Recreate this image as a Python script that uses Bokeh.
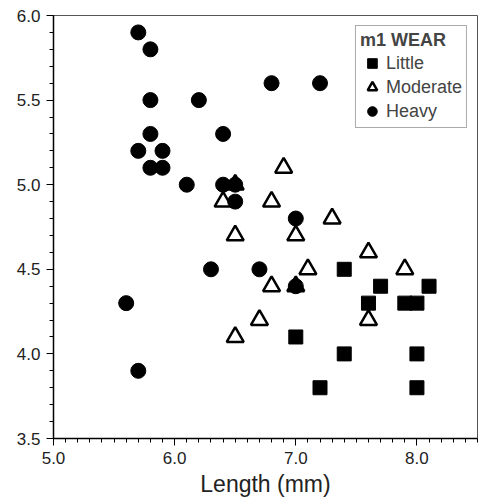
from bokeh.plotting import figure
from bokeh.models import Range1d, FixedTicker, Legend, LegendItem, NumeralTickFormatter
from bokeh.embed import file_html
from bokeh.resources import INLINE

little_x = [7.4, 7.7, 8.1, 7.6, 7.9, 8.0, 7.0, 7.4, 8.0, 7.2, 8.0]
little_y = [4.5, 4.4, 4.4, 4.3, 4.3, 4.3, 4.1, 4.0, 4.0, 3.8, 3.8]

moderate_x = [6.4, 6.5, 6.5, 6.9, 6.8, 7.0, 7.3, 7.6, 7.1, 7.9, 6.8, 7.0, 7.6, 6.7, 6.5]
moderate_y = [4.9, 5.0, 4.7, 5.1, 4.9, 4.7, 4.8, 4.6, 4.5, 4.5, 4.4, 4.4, 4.2, 4.2, 4.1]

heavy_x = [5.7, 5.8, 5.8, 6.2, 5.8, 6.4, 5.7, 5.9, 5.8, 5.9, 6.1, 6.4, 6.5, 6.5,
           6.8, 7.2, 7.0, 6.3, 6.7, 7.0, 5.6, 5.7]
heavy_y = [5.9, 5.8, 5.5, 5.5, 5.3, 5.3, 5.2, 5.2, 5.1, 5.1, 5.0, 5.0, 5.0, 4.9,
           5.6, 5.6, 4.8, 4.5, 4.5, 4.4, 4.3, 3.9]

x_ticks = [5.0, 6.0, 7.0, 8.0]
y_ticks = [3.5, 4.0, 4.5, 5.0, 5.5, 6.0]

FONT = "Liberation Sans"

p = figure(width=485, height=502, output_backend="svg", toolbar_location=None,
           x_range=Range1d(5.0, 8.5), y_range=Range1d(3.5, 6.0),
           min_border_left=53, min_border_right=8, min_border_top=15, min_border_bottom=64)
p.xgrid.visible = False
p.ygrid.visible = False
p.outline_line_color = "#555555"
p.outline_line_width = 1

mod = p.scatter(moderate_x, moderate_y, marker="triangle", size=17, fill_color="white",
                line_color="black", line_width=2.5)
lit = p.scatter(little_x, little_y, marker="square", size=14, fill_color="black",
                line_color="black")
hvy = p.scatter(heavy_x, heavy_y, marker="circle", size=15, fill_color="black",
                line_color="black")

for ax, ticks in ((p.xaxis[0], x_ticks), (p.yaxis[0], y_ticks)):
    ax.ticker = FixedTicker(ticks=ticks,
                            minor_ticks=[round(ticks[0] + 0.1 * i, 1) for i in range(0, 36)])
    ax.formatter = NumeralTickFormatter(format="0.0")
    ax.major_label_text_font = FONT
    ax.major_label_text_font_size = "17px"
    ax.major_label_text_color = "#222222"
    ax.axis_line_color = "black"
    ax.axis_line_width = 1.5
    ax.major_tick_line_color = "black"
    ax.minor_tick_line_color = "black"
    ax.major_tick_out = 7
    ax.major_tick_in = 0
    ax.minor_tick_out = 4
    ax.minor_tick_in = 0
    ax.major_label_standoff = 6

p.xaxis.axis_label = "Length (mm)"
p.xaxis.axis_label_text_font = FONT
p.xaxis.axis_label_text_font_size = "23px"
p.xaxis.axis_label_text_font_style = "normal"
p.xaxis.axis_label_text_color = "#222222"
p.xaxis.axis_label_standoff = 4

legend = Legend(items=[LegendItem(label="Little", renderers=[lit]),
                       LegendItem(label="Moderate", renderers=[mod]),
                       LegendItem(label="Heavy", renderers=[hvy])],
                location="top_right")
legend.title = "m1 WEAR"
legend.title_text_font = FONT
legend.title_text_font_style = "bold"
legend.title_text_font_size = "18px"
legend.title_standoff = 0
legend.label_text_font = FONT
legend.label_text_font_size = "18px"
legend.label_standoff = 2
legend.glyph_width = 24
legend.glyph_height = 24
legend.label_height = 22
legend.spacing = 0
legend.padding = 4
legend.margin = 10
legend.border_line_color = "#555555"
legend.border_line_width = 1
legend.background_fill_alpha = 1
p.add_layout(legend)

open("out.html", "w").write(file_html(p, INLINE))
